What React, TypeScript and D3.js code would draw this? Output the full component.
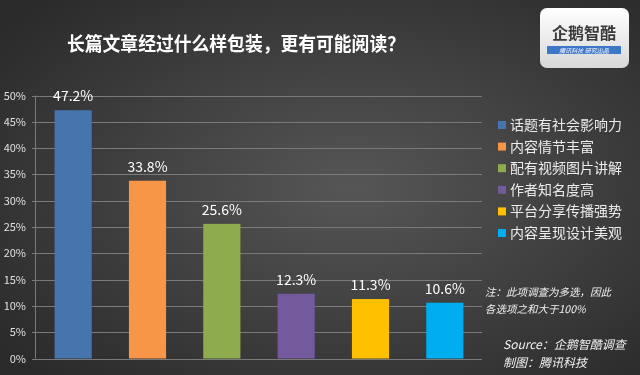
import React, { useEffect, useRef } from "react";
import * as d3 from "d3";

const categories = [
  "话题有社会影响力",
  "内容情节丰富",
  "配有视频图片讲解",
  "作者知名度高",
  "平台分享传播强势",
  "内容呈现设计美观",
];
const values = [47.2, 33.8, 25.6, 12.3, 11.3, 10.6];
const barColors = ["#4674ad", "#f79646", "#8eab4d", "#725a9c", "#ffc000", "#00aeef"];
const yTicks = [0, 5, 10, 15, 20, 25, 30, 35, 40, 45, 50];
const title = "长篇文章经过什么样包装，更有可能阅读？";
const noteLines = ["注：此项调查为多选，因此", "各选项之和大于100%"];
const sourceLines = ["Source：企鹅智酷调查", "制图：腾讯科技"];

const FONT = "'Noto Sans CJK SC', 'Noto Sans', sans-serif";

export default function App() {
  const ref = useRef<SVGSVGElement>(null);

  useEffect(() => {
    const svg = d3.select(ref.current);
    svg.selectAll("*").remove();

    const w = 640, h = 375;
    svg.attr("width", w).attr("height", h).style("font-family", FONT);

    // background
    const defs = svg.append("defs");
    const bg = defs.append("radialGradient")
      .attr("id", "bg")
      .attr("cx", "0.55").attr("cy", "0.5").attr("r", "0.7");
    bg.append("stop").attr("offset", "0%").attr("stop-color", "#565656");
    bg.append("stop").attr("offset", "100%").attr("stop-color", "#2a2a2a");
    svg.append("rect").attr("width", w).attr("height", h).attr("fill", "url(#bg)");

    const logoGrad = defs.append("linearGradient")
      .attr("id", "logo").attr("x1", 0).attr("y1", 0).attr("x2", 0).attr("y2", 1);
    logoGrad.append("stop").attr("offset", "0%").attr("stop-color", "#ffffff");
    logoGrad.append("stop").attr("offset", "100%").attr("stop-color", "#d8d8d8");

    // title
    svg.append("text")
      .attr("x", 67).attr("y", 51)
      .attr("fill", "#ffffff")
      .attr("font-size", 19)
      .attr("font-weight", "bold")
      .attr("textLength", 338)
      .attr("lengthAdjust", "spacingAndGlyphs")
      .text(title);

    // logo
    const logo = svg.append("g").attr("transform", "translate(540,8)");
    logo.append("rect").attr("width", 89).attr("height", 60).attr("rx", 7)
      .attr("fill", "url(#logo)");
    logo.append("text").attr("x", 44).attr("y", 31).attr("text-anchor", "middle")
      .attr("font-size", 16).attr("fill", "#3a3a3a").attr("font-weight", "bold")
      .text("企鹅智酷");
    logo.append("rect").attr("x", 7).attr("y", 38).attr("width", 74).attr("height", 8)
      .attr("fill", "#3d78c8");
    logo.append("text").attr("x", 44).attr("y", 44.5).attr("text-anchor", "middle")
      .attr("font-size", 6).attr("fill", "#ffffff").attr("font-style", "italic")
      .text("腾讯科技  研究出品");

    // scales
    const x = d3.scaleBand<string>()
      .domain(categories)
      .range([36, 482])
      .paddingInner(0.5)
      .paddingOuter(0.25);

    const y = d3.scaleLinear().domain([0, 50]).range([358.5, 95.5]);

    // grid
    const g = svg.append("g");
    g.selectAll(".grid")
      .data(yTicks)
      .enter()
      .append("line")
      .attr("x1", 32).attr("x2", 482)
      .attr("y1", (d) => Math.round(y(d)) + 0.5)
      .attr("y2", (d) => Math.round(y(d)) + 0.5)
      .attr("stroke", "#7a7a7a")
      .attr("stroke-width", 1);

    g.append("line")
      .attr("x1", 35.5).attr("x2", 35.5)
      .attr("y1", y(50)).attr("y2", y(0))
      .attr("stroke", "#7a7a7a");

    g.selectAll(".tick")
      .data(yTicks)
      .enter()
      .append("text")
      .attr("x", 26)
      .attr("y", (d) => y(d) + 4)
      .attr("text-anchor", "end")
      .attr("font-size", 11)
      .attr("fill", "#e0e0e0")
      .text((d) => d + "%");

    // bars
    g.selectAll(".bar")
      .data(values)
      .enter()
      .append("rect")
      .attr("x", (d, i) => x(categories[i]) as number)
      .attr("y", (d) => y(d))
      .attr("width", x.bandwidth())
      .attr("height", (d) => y(0) - y(d))
      .attr("fill", (d, i) => barColors[i]);

    g.selectAll(".val")
      .data(values)
      .enter()
      .append("text")
      .attr("x", (d, i) => (x(categories[i]) as number) + x.bandwidth() / 2)
      .attr("y", (d) => y(d) - 9)
      .attr("text-anchor", "middle")
      .attr("font-size", 14)
      .attr("fill", "#ffffff")
      .text((d) => d.toFixed(1) + "%");

    // legend
    const leg = svg.append("g").attr("transform", "translate(498,125)");
    categories.forEach((c, i) => {
      const row = leg.append("g").attr("transform", `translate(0,${i * 21.6})`);
      row.append("rect").attr("x", 0).attr("y", -4).attr("width", 8).attr("height", 8)
        .attr("fill", barColors[i]);
      row.append("text").attr("x", 12).attr("y", 5)
        .attr("font-size", 14).attr("fill", "#ececec").text(c);
    });

    // notes
    noteLines.forEach((t, i) => {
      svg.append("text").attr("x", 485).attr("y", 296 + i * 17)
        .attr("font-size", 10.5).attr("font-style", "italic").attr("fill", "#f0f0f0")
        .text(t);
    });
    sourceLines.forEach((t, i) => {
      svg.append("text").attr("x", 503).attr("y", 349 + i * 18)
        .attr("font-size", 12).attr("font-style", "italic").attr("fill", "#f0f0f0")
        .text(t);
    });
  }, []);

  return (
    <div style={{ position: "fixed", left: 0, top: 0 }}>
      <svg ref={ref}></svg>
    </div>
  );
}
